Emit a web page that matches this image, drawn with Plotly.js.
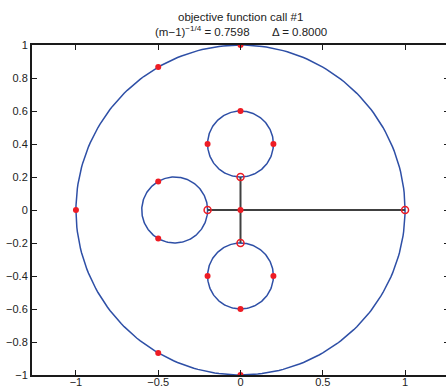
<!DOCTYPE html>
<html>
<head>
<meta charset="utf-8">
<script src="https://cdn.plot.ly/plotly-3.0.1.min.js"></script>
<style>
html,body{margin:0;padding:0;overflow:hidden;background:#fff;}
#chart{width:450px;height:389px;}
</style>
</head>
<body>
<div id="chart"></div>
<script>
// Circles: centres and radii
const circleCx = [0, 0, 0, -0.4];
const circleCy = [0, 0.4, -0.4, 0];
const circleR  = [1, 0.2, 0.2, 0.2];

// Black connecting segments
const segX = [-0.2, 1, null, 0, 0];
const segY = [0, 0, null, -0.2, 0.2];

// Filled red points
const dotX = [0, -0.5, -1, -0.5, 0, 0, -0.2, 0.2, 0, -0.2, 0.2, -0.5, -0.5, 0];
const dotY = [1, 0.866, 0, -0.866, -1, 0.6, 0.4, 0.4, -0.6, -0.4, -0.4, 0.173, -0.173, 0];

// Open red points
const openX = [1, 0, 0, -0.2];
const openY = [0, 0.2, -0.2, 0];

const xTicks = [-1, -0.5, 0, 0.5, 1];
const xTickText = ['\u22121', '\u22120.5', '0', '0.5', '1'];
const yTicks = [-1, -0.8, -0.6, -0.4, -0.2, 0, 0.2, 0.4, 0.6, 0.8, 1];
const yTickText = ['\u22121', '\u22120.8', '\u22120.6', '\u22120.4', '\u22120.2', '0', '0.2', '0.4', '0.6', '0.8', '1'];

const titleLine1 = 'objective function call #1';
const titleLine2 = '(m\u22121)<sup>\u22121/4</sup> = 0.7598\u00A0\u00A0\u00A0\u00A0\u00A0\u00A0\u00A0\u0394 = 0.8000';

const traces = [];
for (let i = 0; i < circleR.length; i++) {
  const xs = [], ys = [];
  const n = 240;
  for (let k = 0; k <= n; k++) {
    const t = 2 * Math.PI * k / n;
    xs.push(circleCx[i] + circleR[i] * Math.cos(t));
    ys.push(circleCy[i] + circleR[i] * Math.sin(t));
  }
  traces.push({x: xs, y: ys, mode: 'lines', line: {color: '#2e4fa6', width: 1.5}, hoverinfo: 'skip'});
}
traces.push({x: segX, y: segY, mode: 'lines', line: {color: '#404040', width: 2}, connectgaps: false});
traces.push({x: openX, y: openY, mode: 'markers',
  marker: {symbol: 'circle-open', size: 7, color: '#ee1c24', line: {width: 1.5, color: '#ee1c24'}}});
traces.push({x: dotX, y: dotY, mode: 'markers',
  marker: {symbol: 'circle', size: 6, color: '#ee1c24'}});

const font = {family: 'Liberation Sans, Arial, sans-serif', size: 11, color: '#222'};
const titleFont = {family: 'Liberation Sans, Arial, sans-serif', size: 11.5, color: '#222'};

const axisCommon = {
  showgrid: false, zeroline: false, showline: true, linecolor: '#1a1a1a', linewidth: 2,
  mirror: 'ticks', ticks: 'inside', ticklen: 5, tickwidth: 1, tickcolor: '#1a1a1a',
  tickfont: font, fixedrange: true
};

const layout = {
  width: 450, height: 389,
  margin: {l: 32, r: 1, t: 45, b: 14, pad: 0},
  paper_bgcolor: '#fff', plot_bgcolor: '#fff',
  showlegend: false,
  annotations: [
    {text: titleLine1, xref: 'paper', yref: 'paper', x: 0.5, y: 1.085, xanchor: 'center', yanchor: 'middle', showarrow: false, font: titleFont},
    {text: titleLine2, xref: 'paper', yref: 'paper', x: 0.5, y: 1.043, xanchor: 'center', yanchor: 'middle', showarrow: false, font: titleFont}
  ],
  xaxis: Object.assign({}, axisCommon, {range: [-1.267, 1.267], tickvals: xTicks, ticktext: xTickText, ticklabelstandoff: -4}),
  yaxis: Object.assign({}, axisCommon, {range: [-1, 1], tickvals: yTicks, ticktext: yTickText})
};

Plotly.newPlot('chart', traces, layout, {displayModeBar: false, staticPlot: true});
</script>
</body>
</html>
